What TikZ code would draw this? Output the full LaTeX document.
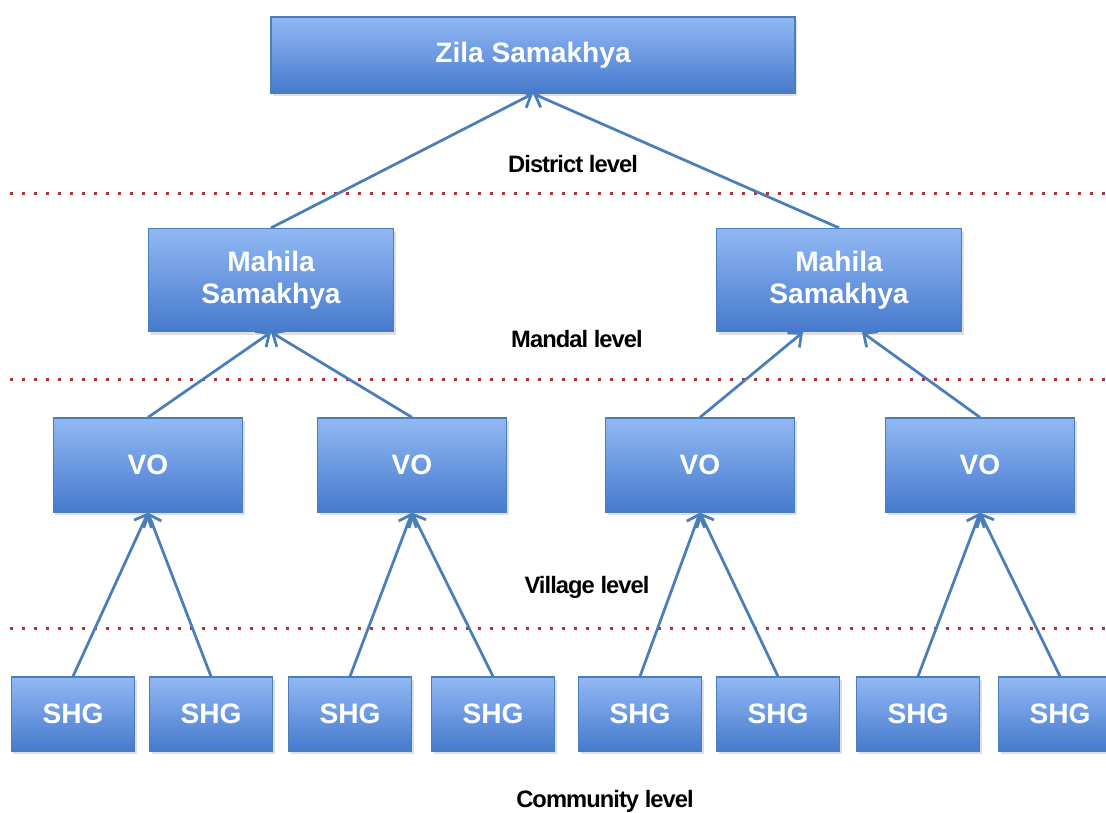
\documentclass[tikz,border=0pt]{standalone}
\usepackage{fontspec}
\setmainfont{Liberation Sans}
\newfontfamily\levelfont{Liberation Sans}[UprightFont=*-Bold, LetterSpace=-4]
\usetikzlibrary{arrows.meta,shadows}
\definecolor{boxtop}{RGB}{145,184,244}
\definecolor{boxbot}{RGB}{70,122,205}
\definecolor{boxline}{RGB}{74,126,187}
\definecolor{dotred}{RGB}{180,50,55}
\tikzset{
  unit/.style={draw=boxline, line width=0.25mm, top color=boxtop, bottom color=boxbot,
    text=white, font=\fontsize{16}{18}\selectfont\bfseries, inner sep=0pt, align=center,
    drop shadow={opacity=0.25, shadow xshift=0.4mm, shadow yshift=-0.6mm}},
  link/.style={draw=boxline, line width=0.55mm, -{Straight Barb[length=2.1mm,width=3.8mm]}},
  levelsep/.style={dotred, line width=0.6mm, dash pattern=on 0.6mm off 1.8mm},
  levellabel/.style={font=\levelfont\fontsize{13.5}{15}\selectfont, anchor=base, inner sep=0pt}
}

\begin{document}
\begin{tikzpicture}[x=0.2mm, y=-0.2mm]
		%%%%% START %%%%%
		\useasboundingbox (0, 0) rectangle (1106, 812);
		\clip (0, 0) rectangle (1106, 812);
		
		% level separators
		\draw[levelsep] (10, 193) -- (1106, 193);
		\draw[levelsep] (10, 379) -- (1106, 379);
		\draw[levelsep] (10, 628) -- (1106, 628);
		
		% district
		\node[unit, minimum width=104.8mm, minimum height=15.2mm] (zila) at (533, 55) {Zila Samakhya};
		
		% mandal
		\node[unit, minimum width=49mm, minimum height=20.6mm] (msl) at (271, 280) {Mahila\\Samakhya};
		\node[unit, minimum width=49mm, minimum height=20.6mm] (msr) at (839, 280) {Mahila\\Samakhya};
		
		% village
		\node[unit, minimum width=37.8mm, minimum height=18.8mm] (vo1) at (148, 465) {VO};
		\node[unit, minimum width=37.8mm, minimum height=18.8mm] (vo2) at (412, 465) {VO};
		\node[unit, minimum width=37.8mm, minimum height=18.8mm] (vo3) at (700, 465) {VO};
		\node[unit, minimum width=37.8mm, minimum height=18.8mm] (vo4) at (980, 465) {VO};
		
		% community
		\node[unit, minimum width=24.6mm, minimum height=14.8mm] (shg1) at (73, 714) {SHG};
		\node[unit, minimum width=24.6mm, minimum height=14.8mm] (shg2) at (211, 714) {SHG};
		\node[unit, minimum width=24.6mm, minimum height=14.8mm] (shg3) at (350, 714) {SHG};
		\node[unit, minimum width=24.6mm, minimum height=14.8mm] (shg4) at (493, 714) {SHG};
		\node[unit, minimum width=24.6mm, minimum height=14.8mm] (shg5) at (640, 714) {SHG};
		\node[unit, minimum width=24.6mm, minimum height=14.8mm] (shg6) at (778, 714) {SHG};
		\node[unit, minimum width=24.6mm, minimum height=14.8mm] (shg7) at (918, 714) {SHG};
		\node[unit, minimum width=24.6mm, minimum height=14.8mm] (shg8) at (1060, 714) {SHG};
		
		% links
		\draw[link] (msl.north) -- (zila.south);
		\draw[link] (msr.north) -- (zila.south);
		\draw[link] (vo1.north) -- (msl.south);
		\draw[link] (vo2.north) -- (msl.south);
		\draw[link] (vo3.north) -- ([xshift=-7.2mm]msr.south);
		\draw[link] (vo4.north) -- ([xshift=4.6mm]msr.south);
		\draw[link] (shg1.north) -- (vo1.south);
		\draw[link] (shg2.north) -- (vo1.south);
		\draw[link] (shg3.north) -- (vo2.south);
		\draw[link] (shg4.north) -- (vo2.south);
		\draw[link] (shg5.north) -- (vo3.south);
		\draw[link] (shg6.north) -- (vo3.south);
		\draw[link] (shg7.north) -- (vo4.south);
		\draw[link] (shg8.north) -- (vo4.south);
		
		% level names
		\node[levellabel] (lvd) at (573, 172) {District level};
		\node[levellabel] (lvm) at (577, 347) {Mandal level};
		\node[levellabel] (lvv) at (587, 593) {Village level};
		\node[levellabel] (lvc) at (605, 807) {Community level};
		%%%%% END %%%%%
	\end{tikzpicture}
\end{document}
